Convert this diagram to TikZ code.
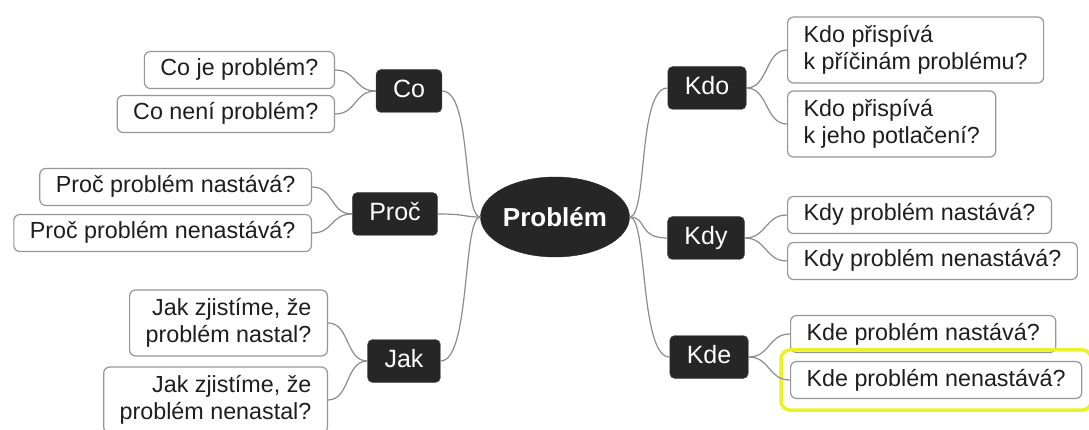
\documentclass[tikz,border=0pt]{standalone}
\usepackage{fontspec}
\setmainfont{Liberation Sans}
\usetikzlibrary{shapes.geometric, positioning, fit}
\definecolor{myDark}{RGB}{38,38,38}
\definecolor{myLine}{RGB}{140,140,140}
\definecolor{myBorder}{RGB}{150,150,150}
\definecolor{myText}{RGB}{30,30,30}
\definecolor{myYellow}{RGB}{232,242,40}

\begin{document}
\begin{tikzpicture}[x=1pt, y=-1pt,
    root/.style={ellipse, fill=myDark, draw=myDark, minimum width=149pt, minimum height=80pt, inner sep=0pt, text=white, font=\fontsize{26}{30}\selectfont\bfseries},
    branch/.style={fill=myDark, draw=myDark!80, rounded corners=5pt, text=white, inner xsep=17pt, inner ysep=10pt, text height=18pt, text depth=5pt, font=\fontsize{25}{28}\selectfont},
    leaf/.style={fill=white, draw=myBorder, line width=1.2pt, rounded corners=6pt, text=myText, inner xsep=16pt, font=\fontsize{23.3}{27}\selectfont},
    oneline/.style={leaf, inner ysep=7.5pt, text height=17pt, text depth=5pt},
    twoline/.style={leaf, inner ysep=8.5pt},
    link/.style={myLine, line width=1.2pt},
    hilite/.style={draw=myYellow, line width=3.5pt, rounded corners=9pt, inner xsep=9pt, inner ysep=11pt}]
    \useasboundingbox (0,0) rectangle (1089,430);
    % Centre
    \node[root] (prob) at (555,217) {Problém};
    % Left branches
    \node[branch] (co)   at (409,91)  {Co};
    \node[branch] (proc) at (395,214) {Proč};
    \node[branch] (jak)  at (404,361) {Jak};
    \node[oneline, anchor=east] (co1) at (335,70)  {Co je problém?};
    \node[oneline, anchor=east] (co2) at (335,114) {Co není problém?};
    \node[oneline, anchor=east] (proc1) at (312,187) {Proč problém nastává?};
    \node[oneline, anchor=east] (proc2) at (312,233) {Proč problém nenastává?};
    \node[twoline, anchor=east, align=right] (jak1) at (328,323) {Jak zjistíme, že\\problém nastal?};
    \node[twoline, anchor=east, align=right] (jak2) at (328,400) {Jak zjistíme, že\\problém nenastal?};
    % Right branches
    \node[branch] (kdo) at (707,88)  {Kdo};
    \node[branch] (kdy) at (706,238) {Kdy};
    \node[branch] (kde) at (709,357) {Kde};
    \node[twoline, anchor=west, align=left] (kdo1) at (787,50)  {Kdo přispívá\\k příčinám problému?};
    \node[twoline, anchor=west, align=left] (kdo2) at (787,124) {Kdo přispívá\\k jeho potlačení?};
    \node[oneline, anchor=west] (kdy1) at (787,215) {Kdy problém nastává?};
    \node[oneline, anchor=west] (kdy2) at (787,261) {Kdy problém nenastává?};
    \node[oneline, anchor=west] (kde1) at (790,334) {Kde problém nastává?};
    \node[oneline, anchor=west] (kde2) at (790,380) {Kde problém nenastává?};
    % Highlight
    \node[hilite, fit=(kde2)] (mark) {};
    % Links
    \foreach \b in {co, proc, jak}
        \draw[link] (prob.west) .. controls +(-18,0) and +(30,0) .. (\b.east);
    \foreach \b in {kdo, kdy, kde}
        \draw[link] (prob.east) .. controls +(18,0) and +(-30,0) .. (\b.west);
    \foreach \b/\l in {co/co1, co/co2, proc/proc1, proc/proc2, jak/jak1, jak/jak2}
        \draw[link] (\b.west) .. controls +(-22,0) and +(22,0) .. (\l.east);
    \foreach \b/\l in {kdo/kdo1, kdo/kdo2, kdy/kdy1, kdy/kdy2, kde/kde1, kde/kde2}
        \draw[link] (\b.east) .. controls +(22,0) and +(-22,0) .. (\l.west);
\end{tikzpicture}
\end{document}
